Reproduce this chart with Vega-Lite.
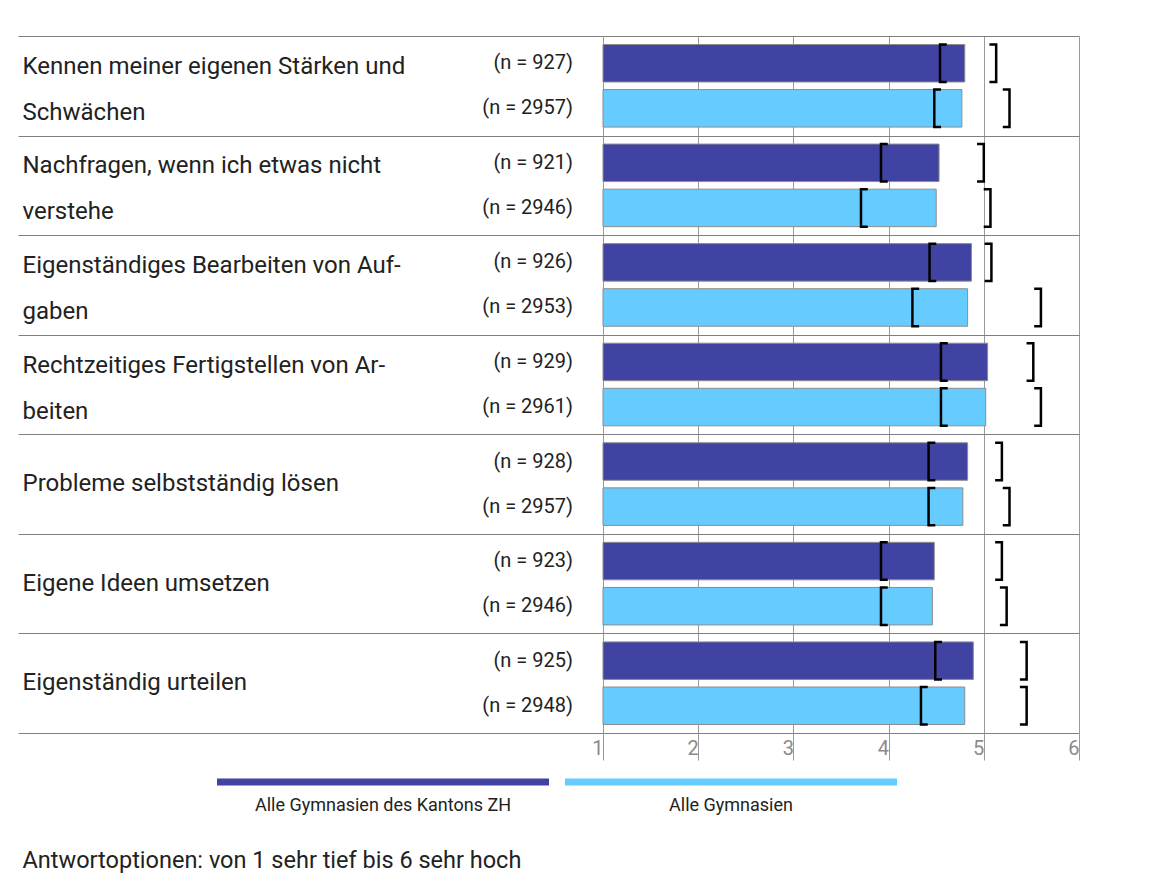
{
  "$schema": "https://vega.github.io/schema/vega-lite/v6.json",
  "width": 476,
  "height": 697,
  "autosize": {"type": "none"},
  "padding": {"left": 603, "top": 36, "right": 83, "bottom": 148},
  "background": "white",
  "config": {"font": "Roboto", "view": {"stroke": null}},
  "data": {
    "values": [
      {"item": "Kennen meiner eigenen Stärken und\nSchwächen", "series": "Alle Gymnasien des Kantons ZH", "nText": "(n = 927)", "mean": 4.80, "lo": 4.54, "hi": 5.13},
      {"item": "Kennen meiner eigenen Stärken und\nSchwächen", "series": "Alle Gymnasien", "nText": "(n = 2957)", "mean": 4.77, "lo": 4.48, "hi": 5.27},
      {"item": "Nachfragen, wenn ich etwas nicht\nverstehe", "series": "Alle Gymnasien des Kantons ZH", "nText": "(n = 921)", "mean": 4.53, "lo": 3.92, "hi": 5.00},
      {"item": "Nachfragen, wenn ich etwas nicht\nverstehe", "series": "Alle Gymnasien", "nText": "(n = 2946)", "mean": 4.50, "lo": 3.71, "hi": 5.07},
      {"item": "Eigenständiges Bearbeiten von Auf-\ngaben", "series": "Alle Gymnasien des Kantons ZH", "nText": "(n = 926)", "mean": 4.87, "lo": 4.43, "hi": 5.08},
      {"item": "Eigenständiges Bearbeiten von Auf-\ngaben", "series": "Alle Gymnasien", "nText": "(n = 2953)", "mean": 4.83, "lo": 4.25, "hi": 5.60},
      {"item": "Rechtzeitiges Fertigstellen von Ar-\nbeiten", "series": "Alle Gymnasien des Kantons ZH", "nText": "(n = 929)", "mean": 5.04, "lo": 4.55, "hi": 5.52},
      {"item": "Rechtzeitiges Fertigstellen von Ar-\nbeiten", "series": "Alle Gymnasien", "nText": "(n = 2961)", "mean": 5.02, "lo": 4.55, "hi": 5.60},
      {"item": "Probleme selbstständig lösen", "series": "Alle Gymnasien des Kantons ZH", "nText": "(n = 928)", "mean": 4.83, "lo": 4.42, "hi": 5.19},
      {"item": "Probleme selbstständig lösen", "series": "Alle Gymnasien", "nText": "(n = 2957)", "mean": 4.78, "lo": 4.42, "hi": 5.27},
      {"item": "Eigene Ideen umsetzen", "series": "Alle Gymnasien des Kantons ZH", "nText": "(n = 923)", "mean": 4.48, "lo": 3.92, "hi": 5.19},
      {"item": "Eigene Ideen umsetzen", "series": "Alle Gymnasien", "nText": "(n = 2946)", "mean": 4.46, "lo": 3.92, "hi": 5.24},
      {"item": "Eigenständig urteilen", "series": "Alle Gymnasien des Kantons ZH", "nText": "(n = 925)", "mean": 4.89, "lo": 4.49, "hi": 5.45},
      {"item": "Eigenständig urteilen", "series": "Alle Gymnasien", "nText": "(n = 2948)", "mean": 4.80, "lo": 4.34, "hi": 5.45}
    ]
  },
  "resolve": {"axis": {"y": "independent"}},
  "layer": [
    {
      "mark": {"type": "bar", "stroke": "#8c8c8c", "strokeWidth": 1},
      "encoding": {
        "y": {
          "field": "item", "type": "nominal", "sort": null,
          "scale": {"paddingInner": 0, "paddingOuter": 0},
          "axis": {"orient": "left", "tickBand": "extent", "grid": true, "gridColor": "#808080", "gridWidth": 1, "ticks": true, "tickSize": 585, "tickColor": "#808080", "tickWidth": 1, "labels": false, "domain": false, "title": null}
        },
        "yOffset": {
          "field": "series", "type": "nominal", "sort": null,
          "scale": {"domain": ["Alle Gymnasien des Kantons ZH", "Alle Gymnasien"], "paddingInner": 0.1685, "paddingOuter": 0.188}
        },
        "x": {
          "field": "mean", "type": "quantitative",
          "scale": {"domain": [1, 6], "nice": false, "zero": false},
          "axis": {
            "values": [1, 2, 3, 4, 5, 6], "format": "d",
            "grid": true, "gridColor": "#9a9a9a", "gridWidth": 1,
            "domain": false, "ticks": true, "tickSize": 27, "tickColor": "#9a9a9a", "tickWidth": 1,
            "labelAlign": "right", "labelBaseline": "middle", "labelPadding": -12, "labelDx": -4,
            "labelFontSize": 20, "labelColor": "#8a8a8a", "labelFlush": false, "labelOverlap": false, "labelBound": false,
            "title": "Antwortoptionen: von 1 sehr tief bis 6 sehr hoch",
            "titleX": -581, "titleY": 127, "titleAlign": "left", "titleAnchor": "start", "titleBaseline": "middle",
            "titleFontSize": 23.5, "titleFontWeight": "normal", "titleColor": "#222222"
          }
        },
        "x2": {"datum": 1},
        "color": {
          "field": "series", "type": "nominal",
          "scale": {"domain": ["Alle Gymnasien des Kantons ZH", "Alle Gymnasien"], "range": ["#4143a3", "#66ccff"]},
          "legend": {
            "orient": "none", "legendX": -386, "legendY": 604, "direction": "horizontal", "title": null,
            "symbolType": "M -1 -0.166 L 1 -0.166 L 1 -0.124 L -1 -0.124 Z",
            "symbolSize": 110224, "symbolStrokeWidth": 0, "symbolOpacity": 1,
            "labelAlign": "center", "labelOffset": -166, "labelFontSize": 18, "labelColor": "#222222", "labelLimit": 400,
            "columnPadding": 16, "padding": 0
          }
        }
      }
    },
    {
      "mark": {"type": "point", "shape": "M 0.36 -1 L 0 -1 L 0 1 L 0.36 1", "size": 1406, "filled": false, "stroke": "#000000", "strokeWidth": 2.5, "opacity": 1},
      "encoding": {
        "y": {
          "field": "item", "type": "nominal", "sort": null,
          "axis": {"orient": "left", "offset": 581, "ticks": false, "domain": false, "grid": false, "labelAlign": "left", "labelBaseline": "middle", "labelPadding": 0, "labelFontSize": 24, "labelLineHeight": 46, "labelColor": "#222222", "labelLimit": 560, "labelBound": false, "labelOverlap": false, "labelExpr": "split(datum.value, '\\n')", "labelOffset": {"condition": {"test": "indexof(datum.value, '\\n') >= 0", "value": -19}, "value": 0}, "title": null}
        },
        "yOffset": {"field": "series", "type": "nominal", "sort": null},
        "x": {"field": "lo", "type": "quantitative"}
      }
    },
    {
      "mark": {"type": "point", "shape": "M -0.36 -1 L 0 -1 L 0 1 L -0.36 1", "size": 1406, "filled": false, "stroke": "#000000", "strokeWidth": 2.5, "opacity": 1},
      "encoding": {
        "y": {"field": "item", "type": "nominal", "sort": null, "axis": null},
        "yOffset": {"field": "series", "type": "nominal", "sort": null},
        "x": {"field": "hi", "type": "quantitative"}
      }
    },
    {
      "mark": {"type": "text", "align": "right", "baseline": "middle", "dx": -30, "fontSize": 20, "color": "#222222"},
      "encoding": {
        "y": {"field": "item", "type": "nominal", "sort": null, "axis": null},
        "yOffset": {"field": "series", "type": "nominal", "sort": null},
        "x": {"datum": 1, "type": "quantitative"},
        "text": {"field": "nText"}
      }
    }
  ]
}
